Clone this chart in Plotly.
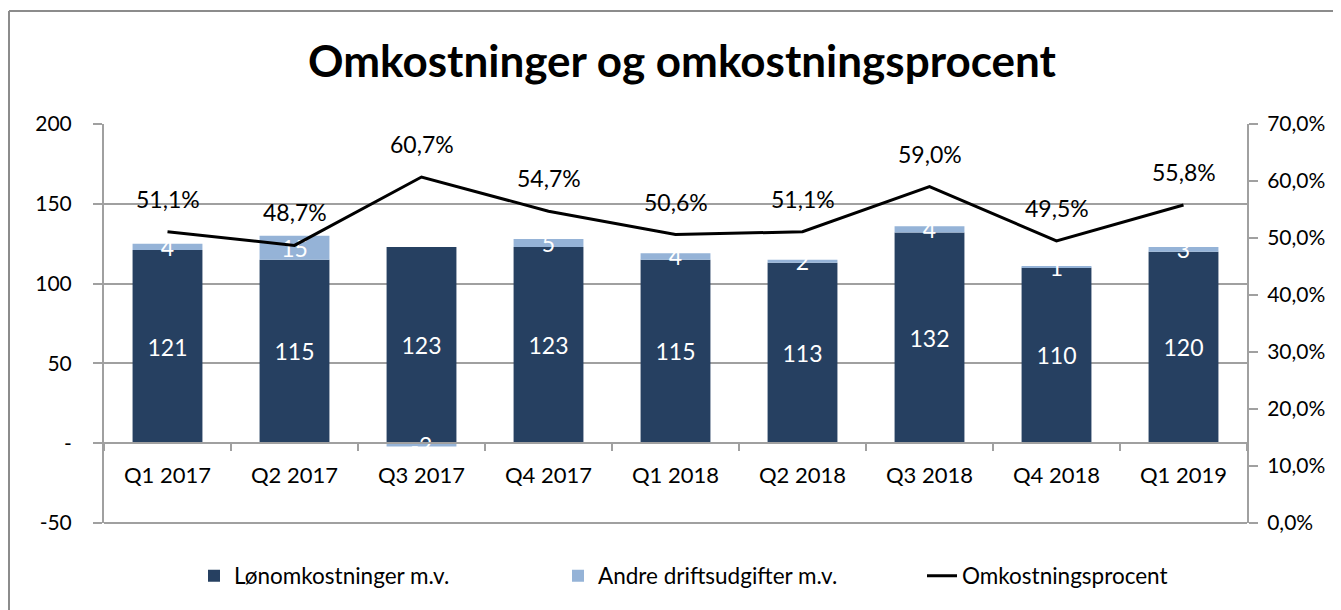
import plotly.graph_objects as go

categories = ["Q1 2017", "Q2 2017", "Q3 2017", "Q4 2017", "Q1 2018",
              "Q2 2018", "Q3 2018", "Q4 2018", "Q1 2019"]
lon = [121, 115, 123, 123, 115, 113, 132, 110, 120]
andre = [4, 15, -2, 5, 4, 2, 4, 1, 3]
pct = [51.1, 48.7, 60.7, 54.7, 50.6, 51.1, 59.0, 49.5, 55.8]

left_ticks = [-50, 0, 50, 100, 150, 200]
left_text = ["-50", "-", "50", "100", "150", "200"]
right_ticks = [0, 10, 20, 30, 40, 50, 60, 70]
right_text = [f"{v:.1f}%".replace(".", ",") for v in right_ticks]

FONT = "Lato"
DARK = "#264061"
LIGHT = "#95B3D7"
GRID = "#a0a0a0"

fig = go.Figure()
fig.add_trace(go.Bar(
    x=categories, y=lon, name="Lønomkostninger m.v.",
    marker=dict(color=DARK, line=dict(width=0)),
    text=[str(v) for v in lon], textposition="inside",
    insidetextanchor="middle", textangle=0, constraintext="none",
    textfont=dict(color="white", size=23, family=FONT),
))
fig.add_trace(go.Bar(
    x=categories, y=andre, name="Andre driftsudgifter m.v.",
    marker=dict(color=LIGHT, line=dict(width=0)),
    text=[str(v) for v in andre], textposition="inside",
    insidetextanchor="middle", textangle=0, constraintext="none",
    textfont=dict(color="white", size=23, family=FONT),
))
fig.add_trace(go.Scatter(
    x=categories, y=pct, name="Omkostningsprocent", yaxis="y2",
    mode="lines", line=dict(color="black", width=3),
))

for c, v in zip(categories, pct):
    fig.add_annotation(x=c, y=v, yref="y2", xref="x",
                       text=f"{v:.1f}%".replace(".", ","), showarrow=False,
                       yshift=33, font=dict(size=23, color="black", family=FONT))

# page has an 8px body margin; figure sized to fit the 1341x610 window
W, H = 1333, 602
L, R, T, B = 96, 94, 116, 87
pw, ph = W - L - R, H - T - B

fig.update_layout(
    width=W, height=H,
    margin=dict(l=L, r=R, t=T, b=B, pad=0, autoexpand=False),
    barmode="relative", bargap=0.45,
    plot_bgcolor="white", paper_bgcolor="white",
    font=dict(family=FONT, size=20, color="black"),
    title=dict(text="<b>Omkostninger og omkostningsprocent</b>",
               x=(674 - L) / pw, xref="paper", xanchor="center",
               y=1 - 54 / H, yref="container", yanchor="middle",
               font=dict(size=44, family=FONT, color="black")),
    xaxis=dict(type="category", anchor="free", position=50 / 250,
               showline=True, linecolor=GRID, linewidth=2,
               ticks="outside", tickson="boundaries", ticklen=7,
               tickcolor=GRID, tickwidth=2, showgrid=False,
               ticklabelstandoff=12,
               tickfont=dict(size=22, family=FONT)),
    yaxis=dict(range=[-50, 200], tickvals=left_ticks, ticktext=left_text,
               showline=True, linecolor=GRID, linewidth=2,
               ticks="outside", ticklen=9, tickcolor=GRID, tickwidth=2,
               showgrid=True, gridcolor=GRID, gridwidth=2, zeroline=False,
               ticklabelstandoff=17,
               tickfont=dict(size=21, family=FONT)),
    yaxis2=dict(range=[0, 70], tickvals=right_ticks, ticktext=right_text,
                overlaying="y", side="right", anchor="x",
                showline=True, linecolor=GRID, linewidth=2,
                ticks="outside", ticklen=9, tickcolor=GRID, tickwidth=2,
                showgrid=False, zeroline=False, ticklabelstandoff=5,
                tickfont=dict(size=21, family=FONT)),
    showlegend=True,
    legend=dict(orientation="h", x=(186 - L) / pw, xanchor="left",
                y=(ph - (568 - T)) / ph, yanchor="middle",
                font=dict(size=22.5, family=FONT),
                entrywidth=319, entrywidthmode="pixels",
                traceorder="normal"),
)

# plot-area bottom border and outer chart frame (top and left edges only visible)
fig.add_shape(type="line", xref="paper", yref="paper", x0=0, x1=1, y0=0, y1=0,
              line=dict(color=GRID, width=2), layer="below")
frame_x0 = (1 - L) / pw
frame_y1 = (ph + T - 3) / ph
fig.add_shape(type="line", xref="paper", yref="paper",
              x0=frame_x0, x1=1.5, y0=frame_y1, y1=frame_y1,
              line=dict(color="#8c8c8c", width=2))
fig.add_shape(type="line", xref="paper", yref="paper",
              x0=frame_x0, x1=frame_x0, y0=-0.5, y1=frame_y1,
              line=dict(color="#8c8c8c", width=2))

fig.write_html("out.html")
